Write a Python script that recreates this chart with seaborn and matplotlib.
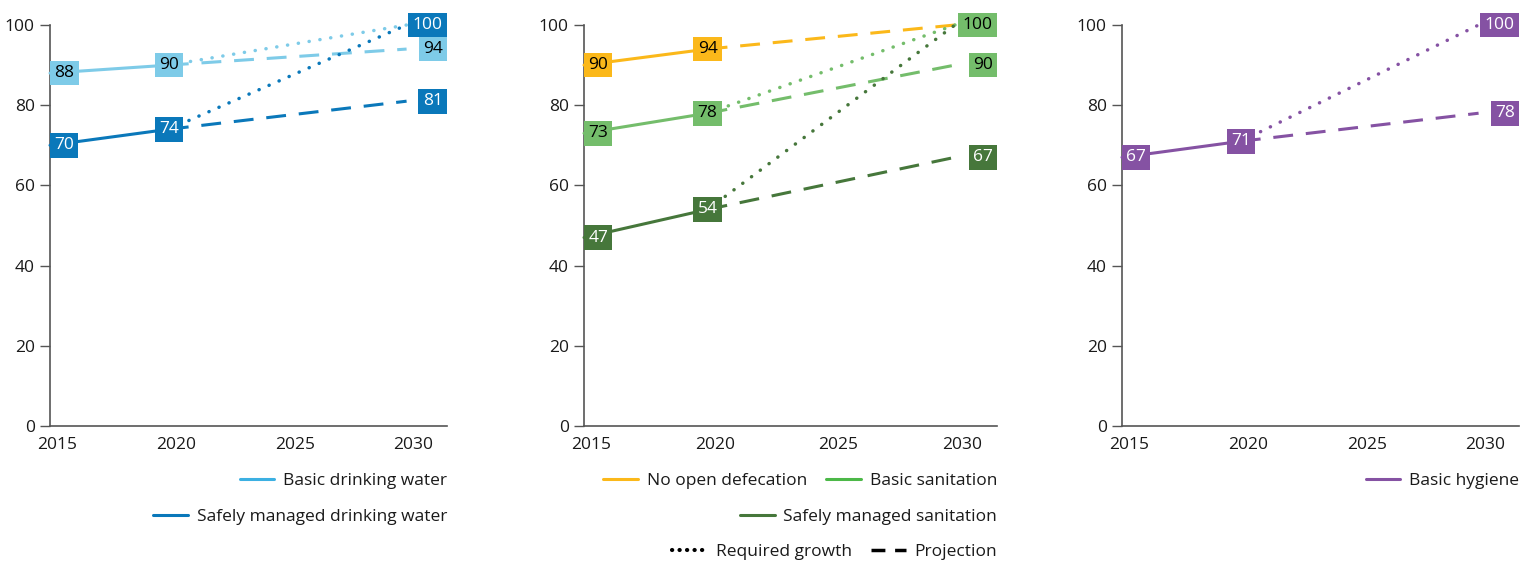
import matplotlib
matplotlib.use("Agg")
import matplotlib.pyplot as plt
import matplotlib.transforms as mtransforms
from matplotlib.lines import Line2D
from matplotlib.legend import Legend
import seaborn as sns

# ---------------- data ----------------
years_hist = [2015, 2020]
years_future = [2020, 2030]
x_ticks = [2015, 2020, 2025, 2030]
y_ticks = [0, 20, 40, 60, 80, 100]

water_basic_hist = [88, 90]
water_basic_proj = [90, 94]
water_basic_req = [90, 100]
water_safe_hist = [70, 74]
water_safe_proj = [74, 81]
water_safe_req = [74, 100]

san_nod_hist = [90, 94]
san_nod_proj = [94, 100]
san_basic_hist = [73, 78]
san_basic_proj = [78, 90]
san_basic_req = [78, 100]
san_safe_hist = [47, 54]
san_safe_proj = [54, 67]
san_safe_req = [54, 100]

hyg_basic_hist = [67, 71]
hyg_basic_proj = [71, 78]
hyg_basic_req = [71, 100]

# colours
C_WB = "#7ecbe8"; C_WS = "#0a78ba"
C_SN = "#fbb81a"; C_SB = "#74bd6b"; C_SS = "#46773b"
C_HB = "#8552a3"
L_WB = "#3cb0e2"; L_SB = "#4cb848"

sns.set_theme(style="ticks")
plt.rcParams["font.family"] = ["Open Sans", "DejaVu Sans"]
plt.rcParams["font.size"] = 12

FS = 12.5

fig = plt.figure(figsize=(15.37, 5.61), dpi=100)
bottom = 1 - 426 / 561
height = (426 - 25) / 561
ax1 = fig.add_axes([50 / 1537, bottom, 397 / 1537, height])
ax2 = fig.add_axes([584 / 1537, bottom, 413 / 1537, height])
ax3 = fig.add_axes([1122 / 1537, bottom, 397 / 1537, height])

DOT = (0, (0.05, 3.1))
DASH = (0, (6.5, 4.2))
LW = 2.2


def seg(ax, xs, ys, color, style):
    if style == "solid":
        sns.lineplot(x=xs, y=ys, color=color, ax=ax, lw=2.2, legend=False,
                     zorder=3, clip_on=False)
    elif style == "dot":
        sns.lineplot(x=xs, y=ys, color=color, ax=ax, lw=2.5, legend=False,
                     linestyle=DOT, dash_capstyle="round", zorder=2, clip_on=False)
    else:
        sns.lineplot(x=xs, y=ys, color=color, ax=ax, lw=LW, legend=False,
                     linestyle=DASH, dash_capstyle="butt", zorder=2, clip_on=False)


def label(ax, x, v, fc, tc, where):
    kw = dict(fontsize=FS, color=tc, va="center", zorder=5,
              bbox=dict(boxstyle="square,pad=0.25", fc=fc, ec="none"),
              annotation_clip=False)
    if where == "left":
        ax.annotate(str(v), xy=(x, v), xytext=(3, 0), textcoords="offset points",
                    ha="left", **kw)
    elif where == "mid":
        ax.annotate(str(v), xy=(x, v), ha="center", **kw)
    else:
        ax.annotate(str(v), xy=(1, v), xycoords=ax.get_yaxis_transform(),
                    xytext=(-3, 0), textcoords="offset points", ha="right", **kw)


def style_axes(ax):
    ax.set_xlim(2015, 2031.7)
    ax.set_ylim(0, 100)
    ax.set_xticks(x_ticks)
    ax.set_xticklabels([str(t) for t in x_ticks])
    ax.set_yticks(y_ticks)
    ax.tick_params(axis="x", length=0, pad=8, labelsize=FS, colors="#1a1a1a")
    ax.tick_params(axis="y", length=7, width=1, pad=4, labelsize=FS,
                   colors="#555555", labelcolor="#1a1a1a")
    shift = mtransforms.ScaledTranslation(7 / 100, 0, fig.dpi_scale_trans)
    for lab in ax.get_xticklabels():
        lab.set_transform(lab.get_transform() + shift)
    for s in ["top", "right"]:
        ax.spines[s].set_visible(False)
    for s in ["left", "bottom"]:
        ax.spines[s].set_color("#555555")
        ax.spines[s].set_linewidth(1.2)
    ax.set_xlabel("")
    ax.set_ylabel("")


def row_legend(ax, handles, labels, y):
    lg = Legend(ax, handles, labels, loc="center right", bbox_to_anchor=(1.0, y),
                bbox_transform=ax.transAxes, ncol=len(handles), frameon=False,
                fontsize=FS, handlelength=2.0, handletextpad=0.5,
                columnspacing=1.1, borderpad=0, borderaxespad=0)
    for t in lg.get_texts():
        t.set_color("#1a1a1a")
    ax.add_artist(lg)


# ---------------- panel 1: water ----------------
seg(ax1, years_future, water_basic_req, C_WB, "dot")
seg(ax1, years_future, water_basic_proj, C_WB, "dash")
seg(ax1, years_future, water_safe_req, C_WS, "dot")
seg(ax1, years_future, water_safe_proj, C_WS, "dash")
seg(ax1, years_hist, water_basic_hist, C_WB, "solid")
seg(ax1, years_hist, water_safe_hist, C_WS, "solid")
label(ax1, 2015, water_basic_hist[0], C_WB, "black", "left")
label(ax1, 2020, water_basic_hist[1], C_WB, "black", "mid")
label(ax1, 2015, water_safe_hist[0], C_WS, "white", "left")
label(ax1, 2020, water_safe_hist[1], C_WS, "white", "mid")
label(ax1, 2030, water_safe_req[1], C_WS, "white", "right")
label(ax1, 2030, water_basic_proj[1], C_WB, "black", "right")
label(ax1, 2030, water_safe_proj[1], C_WS, "white", "right")
style_axes(ax1)
row_legend(ax1, [Line2D([], [], color=L_WB, lw=2.2)], ["Basic drinking water"], -0.137)
row_legend(ax1, [Line2D([], [], color=C_WS, lw=2.2)], ["Safely managed drinking water"], -0.227)

# ---------------- panel 2: sanitation ----------------
seg(ax2, years_future, san_nod_proj, C_SN, "dash")
seg(ax2, years_future, san_basic_req, C_SB, "dot")
seg(ax2, years_future, san_basic_proj, C_SB, "dash")
seg(ax2, years_future, san_safe_req, C_SS, "dot")
seg(ax2, years_future, san_safe_proj, C_SS, "dash")
seg(ax2, years_hist, san_nod_hist, C_SN, "solid")
seg(ax2, years_hist, san_basic_hist, C_SB, "solid")
seg(ax2, years_hist, san_safe_hist, C_SS, "solid")
label(ax2, 2015, san_nod_hist[0], C_SN, "black", "left")
label(ax2, 2020, san_nod_hist[1], C_SN, "black", "mid")
label(ax2, 2015, san_basic_hist[0], C_SB, "black", "left")
label(ax2, 2020, san_basic_hist[1], C_SB, "black", "mid")
label(ax2, 2015, san_safe_hist[0], C_SS, "white", "left")
label(ax2, 2020, san_safe_hist[1], C_SS, "white", "mid")
label(ax2, 2030, san_basic_req[1], C_SB, "black", "right")
label(ax2, 2030, san_basic_proj[1], C_SB, "black", "right")
label(ax2, 2030, san_safe_proj[1], C_SS, "white", "right")
style_axes(ax2)
row_legend(ax2, [Line2D([], [], color=C_SN, lw=2.2), Line2D([], [], color=L_SB, lw=2.2)],
           ["No open defecation", "Basic sanitation"], -0.137)
row_legend(ax2, [Line2D([], [], color=C_SS, lw=2.2)], ["Safely managed sanitation"], -0.227)
row_legend(ax2, [Line2D([], [], color="black", lw=3, linestyle=(0, (0.05, 1.75)),
                        dash_capstyle="round"),
                 Line2D([], [], color="black", lw=2.5, linestyle=(0, (4.0, 2.8)))],
           ["Required growth", "Projection"], -0.315)

# ---------------- panel 3: hygiene ----------------
seg(ax3, years_future, hyg_basic_req, C_HB, "dot")
seg(ax3, years_future, hyg_basic_proj, C_HB, "dash")
seg(ax3, years_hist, hyg_basic_hist, C_HB, "solid")
label(ax3, 2015, hyg_basic_hist[0], C_HB, "white", "left")
label(ax3, 2020, hyg_basic_hist[1], C_HB, "white", "mid")
label(ax3, 2030, hyg_basic_req[1], C_HB, "white", "right")
label(ax3, 2030, hyg_basic_proj[1], C_HB, "white", "right")
style_axes(ax3)
row_legend(ax3, [Line2D([], [], color=C_HB, lw=2.2)], ["Basic hygiene"], -0.137)

fig.savefig("out.png", dpi=100)
